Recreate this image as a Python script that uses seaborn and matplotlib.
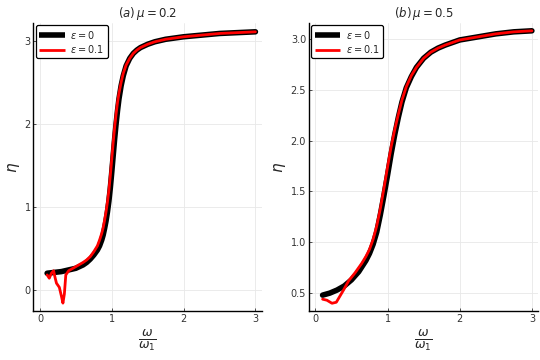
import seaborn as sns
import pandas as pd
import numpy as np
import matplotlib
matplotlib.use("Agg")
import matplotlib.pyplot as plt

# values
# (a) mu = 0.2
w_a0 = [0.1, 0.2, 0.3, 0.4, 0.5, 0.6, 0.65, 0.7, 0.75, 0.8, 0.83, 0.86, 0.88, 0.9, 0.92,
        0.94, 0.96, 0.98, 1.0, 1.02, 1.04, 1.06, 1.08, 1.1, 1.13, 1.16, 1.2, 1.25, 1.3,
        1.35, 1.4, 1.5, 1.6, 1.75, 2.0, 2.25, 2.5, 2.75, 3.0]
eta_a0 = [0.20, 0.21, 0.22, 0.24, 0.26, 0.30, 0.33, 0.37, 0.42, 0.48, 0.53, 0.60, 0.66, 0.74, 0.83,
          0.94, 1.07, 1.23, 1.42, 1.62, 1.82, 2.00, 2.16, 2.30, 2.46, 2.58, 2.70, 2.79, 2.85,
          2.89, 2.92, 2.96, 2.99, 3.02, 3.05, 3.07, 3.09, 3.10, 3.11]
w_a1 = [0.10, 0.13, 0.16, 0.19, 0.21, 0.23, 0.27, 0.30, 0.32, 0.34, 0.36, 0.40, 0.5, 0.6,
        0.65, 0.7, 0.75, 0.8, 0.83, 0.86, 0.88, 0.9, 0.92, 0.94, 0.96, 0.98, 1.0, 1.02, 1.04,
        1.06, 1.08, 1.1, 1.13, 1.16, 1.2, 1.25, 1.3, 1.35, 1.4, 1.5, 1.6, 1.75, 2.0, 2.25,
        2.5, 2.75, 3.0]
eta_a1 = [0.18, 0.14, 0.20, 0.23, 0.15, 0.08, 0.03, -0.08, -0.16, -0.05, 0.18, 0.23, 0.28, 0.33,
          0.36, 0.40, 0.46, 0.53, 0.60, 0.68, 0.75, 0.84, 0.94, 1.06, 1.20, 1.38, 1.58, 1.78, 1.96,
          2.12, 2.26, 2.37, 2.50, 2.61, 2.71, 2.79, 2.85, 2.89, 2.92, 2.96, 2.99, 3.02, 3.05, 3.07,
          3.09, 3.10, 3.11]

# (b) mu = 0.5
w_b0 = [0.1, 0.2, 0.3, 0.4, 0.5, 0.6, 0.7, 0.75, 0.8, 0.85, 0.9, 0.95, 1.0, 1.05, 1.1,
        1.15, 1.2, 1.26, 1.33, 1.4, 1.5, 1.6, 1.7, 1.8, 2.0, 2.25, 2.5, 2.75, 3.0]
eta_b0 = [0.48, 0.50, 0.53, 0.57, 0.63, 0.71, 0.82, 0.89, 0.98, 1.10, 1.27, 1.46, 1.66, 1.87, 2.06,
          2.23, 2.38, 2.52, 2.63, 2.72, 2.81, 2.87, 2.91, 2.94, 2.99, 3.02, 3.05, 3.07, 3.08]
w_b1 = [0.1, 0.16, 0.23, 0.29, 0.34, 0.39, 0.46, 0.55, 0.64, 0.7, 0.75, 0.8, 0.85, 0.9, 0.95,
        1.0, 1.05, 1.1, 1.15, 1.2, 1.26, 1.33, 1.4, 1.5, 1.6, 1.7, 1.8, 2.0, 2.25, 2.5,
        2.75, 3.0]
eta_b1 = [0.44, 0.43, 0.40, 0.41, 0.47, 0.53, 0.62, 0.70, 0.79, 0.86, 0.93, 1.03, 1.16, 1.33, 1.53,
          1.74, 1.94, 2.11, 2.26, 2.40, 2.53, 2.64, 2.72, 2.81, 2.87, 2.91, 2.94, 2.99, 3.02, 3.05,
          3.07, 3.08]

sns.set_theme(style="whitegrid", rc={"grid.color": "#e8e8e8", "grid.linewidth": 0.6,
                                     "axes.edgecolor": "black", "xtick.color": "#333333",
                                     "ytick.color": "#333333"})
plt.rcParams['font.family'] = ['DejaVu Sans']

fig = plt.figure(figsize=(5.4, 3.6), dpi=100)
ax1 = fig.add_axes([0.062, 0.135, 0.423, 0.802])
ax2 = fig.add_axes([0.572, 0.135, 0.425, 0.802])

panels = [
    (ax1, w_a0, eta_a0, w_a1, eta_a1, r"$(a)\,\mu = 0.2$", (-0.26, 3.22), [0, 1, 2, 3]),
    (ax2, w_b0, eta_b0, w_b1, eta_b1, r"$(b)\,\mu = 0.5$", (0.32, 3.16), [0.5, 1.0, 1.5, 2.0, 2.5, 3.0]),
]

for ax, x0, y0, x1, y1, title, ylim, yt in panels:
    d0 = pd.DataFrame({"w": x0, "eta": y0})
    d1 = pd.DataFrame({"w": x1, "eta": y1})
    sns.lineplot(data=d0, x="w", y="eta", ax=ax, color="black", lw=4,
                 sort=False, estimator=None, label=r"$\varepsilon = 0$",
                 solid_joinstyle="round", solid_capstyle="round")
    sns.lineplot(data=d1, x="w", y="eta", ax=ax, color="red", lw=2,
                 sort=False, estimator=None, label=r"$\varepsilon = 0.1$",
                 solid_joinstyle="round", solid_capstyle="round")
    ax.set_xlim(-0.09, 3.09)
    ax.set_ylim(*ylim)
    ax.set_xticks([0, 1, 2, 3])
    ax.set_yticks(yt)
    if ax is ax2:
        ax.set_yticklabels([f"{v:.1f}" for v in yt])
    ax.set_title(title, fontsize=8.5, pad=4)
    ax.set_xlabel(r"$\frac{\omega}{\omega_1}$", fontsize=13, labelpad=2)
    ax.set_ylabel(r"$\eta$", fontsize=11, labelpad=2)
    ax.tick_params(labelsize=7, direction="in", length=2.5, width=0.6, pad=2,
                   left=True, bottom=True)
    sns.despine(ax=ax)
    for s in ["left", "bottom"]:
        ax.spines[s].set_linewidth(1.0)
    leg = ax.legend(loc="upper left", fontsize=7, handlelength=2.6, borderpad=0.35,
                    labelspacing=0.25, handletextpad=0.6, fancybox=True,
                    borderaxespad=0.25, framealpha=1)
    leg.get_frame().set_edgecolor("black")
    leg.get_frame().set_linewidth(0.9)
    for h in leg.get_lines():
        h.set_solid_capstyle("butt")

fig.savefig("out.png", dpi=100)
